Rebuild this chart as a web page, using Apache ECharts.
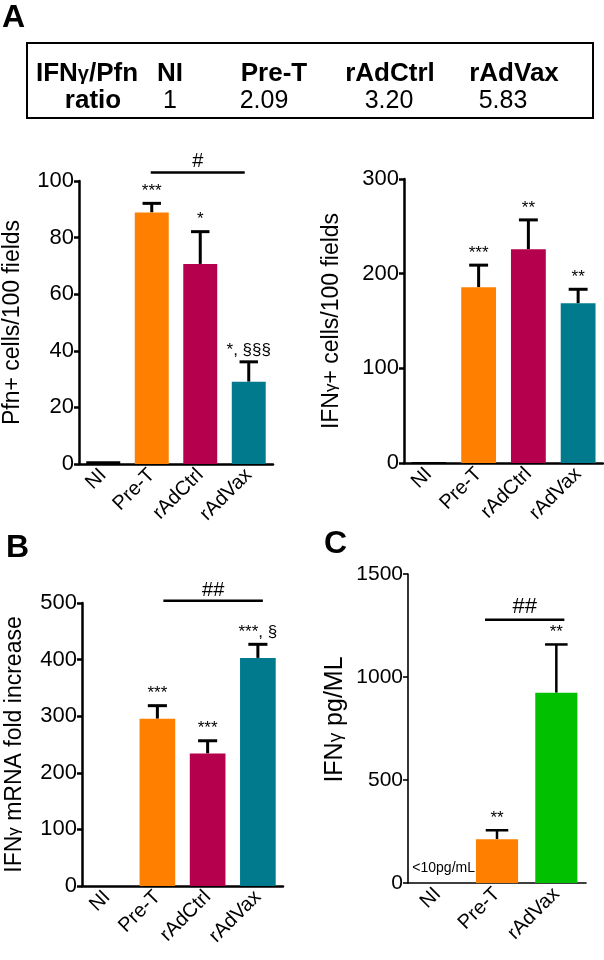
<!DOCTYPE html>
<html>
<head>
<meta charset="utf-8">
<script src="https://cdn.jsdelivr.net/npm/echarts@6/dist/echarts.min.js"></script>
<style>
  html, body { margin: 0; padding: 0; background: #fff; }
  #main { width: 604px; height: 960px; }
</style>
</head>
<body>
<div id="main"></div>
<script>
// categories
var catsA = ['NI', 'Pre-T', 'rAdCtrl', 'rAdVax'];
var catsC = ['NI', 'Pre-T', 'rAdVax'];
var barColorsA = ['#000000', '#FF8000', '#B5004E', '#007A8C'];
var barColorsC = ['#000000', '#FF8000', '#00C000'];

// ratio table
var ratioGroups = ['NI', 'Pre-T', 'rAdCtrl', 'rAdVax'];
var ratioValues = ['1', '2.09', '3.20', '5.83'];

// A left: Pfn+ cells/100 fields (mean, upper SEM)
var pfnMean = [1, 88.9, 70.7, 29.1];
var pfnUpper = [null, 92.1, 82.1, 36.1];
var pfnStars = ['', '***', '*', '*, §§§'];
var pfnSig = [1, 3, 103, '#'];

// A right: IFNg+ cells/100 fields
var ifnCellMean = [1, 185.6, 225.8, 168.7];
var ifnCellUpper = [null, 209, 256.8, 183.5];
var ifnCellStars = ['', '***', '**', '**'];

// B: IFNg mRNA fold increase
var mrnaMean = [0, 295.6, 234.3, 403];
var mrnaUpper = [null, 318.6, 256.6, 427];
var mrnaStars = ['', '***', '***', '***, §'];
var mrnaSig = [1, 3, 504, '##'];

// C: IFNg pg/ML
var pgMean = [0, 212.6, 924];
var pgUpper = [null, 256, 1158];
var pgStars = ['<10pg/mL', '**', '**'];
var pgSig = [1, 2, 1278, '##'];

var FONT = '"Liberation Sans", Arial, Helvetica, sans-serif';

var chart = echarts.init(document.getElementById('main'));

function errData(mean, upper) {
    return mean.map(function (m, i) {
        return [i, m, upper[i] == null ? m : upper[i]];
    });
}

function errRender(stars, capFrac, lw, starOffset) {
    return function (params, api) {
        var i = api.value(0), m = api.value(1), u = api.value(2);
        var p0 = api.coord([i, m]);
        var p1 = api.coord([i, u]);
        var half = api.size([1, 0])[0] * capFrac;
        var children = [];
        if (u !== m) {
            children.push({
                type: 'line',
                shape: { x1: p0[0], y1: p0[1], x2: p1[0], y2: p1[1] },
                style: { stroke: '#000', lineWidth: lw }
            });
            children.push({
                type: 'line',
                shape: { x1: p1[0] - half, y1: p1[1], x2: p1[0] + half, y2: p1[1] },
                style: { stroke: '#000', lineWidth: lw }
            });
        }
        var s = stars[params.dataIndex];
        if (s) {
            var small = s.charAt(0) === '<';
            children.push({
                type: 'text',
                x: p1[0] + (small ? 6 : 0),
                y: p1[1] - (small ? 8 : starOffset),
                style: {
                    text: s,
                    fontFamily: FONT,
                    fontSize: small ? 14 : 17,
                    fill: '#000',
                    align: 'center',
                    verticalAlign: small ? 'bottom' : 'middle'
                }
            });
        }
        return { type: 'group', children: children };
    };
}

function sigSeries(sig, xi, yi, ext, fontSize, gap) {
    return {
        type: 'custom',
        xAxisIndex: xi,
        yAxisIndex: yi,
        silent: true,
        clip: false,
        data: [[sig[0], sig[1], sig[2]]],
        encode: { x: [0, 1], y: 2 },
        renderItem: function (params, api) {
            var a = api.coord([api.value(0), api.value(2)]);
            var b = api.coord([api.value(1), api.value(2)]);
            return {
                type: 'group',
                children: [{
                    type: 'line',
                    shape: { x1: a[0] - ext[0], y1: a[1], x2: b[0] + ext[1], y2: b[1] },
                    style: { stroke: '#000', lineWidth: 2.5 }
                }, {
                    type: 'text',
                    x: (a[0] - ext[0] + b[0] + ext[1]) / 2,
                    y: a[1] - gap,
                    style: {
                        text: sig[3], fontFamily: FONT, fontSize: fontSize,
                        fill: '#000', align: 'center', verticalAlign: 'middle'
                    }
                }]
            };
        }
    };
}

function makeX(cats, gi, lw) {
    return {
        type: 'category',
        gridIndex: gi,
        data: cats,
        axisLine: { lineStyle: { color: '#000', width: lw } },
        axisTick: { show: false },
        axisLabel: {
            rotate: 45, color: '#000', fontFamily: FONT, fontSize: 20,
            margin: 8, interval: 0
        }
    };
}

function makeY(gi, max, interval, name, gap, lw, fs, nameFs, namePad) {
    return {
        type: 'value',
        gridIndex: gi,
        min: 0,
        max: max,
        interval: interval,
        name: name,
        nameLocation: 'middle',
        nameGap: gap,
        nameTextStyle: {
            color: '#000', fontFamily: FONT, fontSize: nameFs,
            padding: namePad,
            rich: { g: { fontFamily: FONT, fontSize: Math.round(nameFs * 0.75), color: '#000' } }
        },
        splitLine: { show: false },
        axisLine: { show: true, lineStyle: { color: '#000', width: lw } },
        axisTick: { show: true, length: 5, lineStyle: { color: '#000', width: lw } },
        axisLabel: {
            color: '#000', fontFamily: FONT, fontSize: fs, margin: 5,
            formatter: function (v) { return String(v); }
        }
    };
}

function barSeries(mean, colors, xi, yi, width) {
    return {
        type: 'bar',
        xAxisIndex: xi,
        yAxisIndex: yi,
        barWidth: width,
        data: mean.map(function (v, i) {
            return { value: v, itemStyle: { color: colors[i] } };
        })
    };
}

function errSeries(mean, upper, stars, xi, yi, capFrac, lw) {
    return {
        type: 'custom',
        xAxisIndex: xi,
        yAxisIndex: yi,
        silent: true,
        clip: false,
        data: errData(mean, upper),
        encode: { x: 0, y: [1, 2] },
        renderItem: errRender(stars, capFrac, lw, 12)
    };
}

var option = {
    animation: false,
    backgroundColor: '#fff',
    grid: [
        { left: 77, top: 181, width: 196, height: 283 },
        { left: 404, top: 179, width: 199, height: 284 },
        { left: 82, top: 603, width: 201, height: 283 },
        { left: 408, top: 574, width: 178, height: 309 }
    ],
    xAxis: [
        makeX(catsA, 0, 2.5),
        makeX(catsA, 1, 2.5),
        makeX(catsA, 2, 2.5),
        makeX(catsC, 3, 1.6)
    ],
    yAxis: [
        makeY(0, 100, 20, 'Pfn+ cells/100 fields', 55, 2.5, 22, 23, 0),
        makeY(1, 300, 100, 'IFN{g|γ}+ cells/100 fields', 61, 2.5, 22, 23, 0),
        makeY(2, 500, 100, 'IFN{g|γ} mRNA fold increase', 56, 2.5, 22, 23, 0),
        makeY(3, 1500, 500, 'IFN{g|γ} pg/ML', 60, 1.6, 21, 25, [0, 0, 0, 18])
    ],
    series: [
        barSeries(pfnMean, barColorsA, 0, 0, '70%'),
        errSeries(pfnMean, pfnUpper, pfnStars, 0, 0, 0.19, 3),
        sigSeries(pfnSig, 0, 0, [1, -4], 20, 11),

        barSeries(ifnCellMean, barColorsA, 1, 1, '70%'),
        errSeries(ifnCellMean, ifnCellUpper, ifnCellStars, 1, 1, 0.19, 3),

        barSeries(mrnaMean, barColorsA, 2, 2, '71%'),
        errSeries(mrnaMean, mrnaUpper, mrnaStars, 2, 2, 0.19, 3),
        sigSeries(mrnaSig, 2, 2, [-6, 5], 20, 10),

        barSeries(pgMean, barColorsC, 3, 3, '71%'),
        errSeries(pgMean, pgUpper, pgStars, 3, 3, 0.19, 2.5),
        sigSeries(pgSig, 3, 3, [12, 8], 22, 13)
    ],
    graphic: [
        { type: 'text', left: 2, top: 2, style: { text: 'A', fontFamily: FONT, fontWeight: 'bold', fontSize: 32, fill: '#000' } },
        { type: 'text', left: 6, top: 532, style: { text: 'B', fontFamily: FONT, fontWeight: 'bold', fontSize: 32, fill: '#000' } },
        { type: 'text', left: 324, top: 528, style: { text: 'C', fontFamily: FONT, fontWeight: 'bold', fontSize: 32, fill: '#000' } },
        { type: 'rect', shape: { x: 27, y: 43, width: 566, height: 75 }, style: { fill: 'none', stroke: '#000', lineWidth: 2 } }
    ]
};

// ratio table text
var headX = [170, 274, 390, 514];
var valX = [170, 264, 389, 503];
option.graphic.push({
    type: 'text', x: 87, y: 74,
    style: {
        text: 'IFN{g|γ}/Pfn', fontFamily: FONT, fontWeight: 'bold', fontSize: 26, fill: '#000',
        align: 'center', verticalAlign: 'middle',
        rich: { g: { fontFamily: FONT, fontWeight: 'bold', fontSize: 20, fill: '#000' } }
    }
});
option.graphic.push({
    type: 'text', x: 93, y: 101,
    style: { text: 'ratio', fontFamily: FONT, fontWeight: 'bold', fontSize: 26, fill: '#000', align: 'center', verticalAlign: 'middle' }
});
ratioGroups.forEach(function (g, i) {
    option.graphic.push({
        type: 'text', x: headX[i], y: 74,
        style: { text: g, fontFamily: FONT, fontWeight: 'bold', fontSize: 26, fill: '#000', align: 'center', verticalAlign: 'middle' }
    });
    option.graphic.push({
        type: 'text', x: valX[i], y: 101,
        style: { text: ratioValues[i], fontFamily: FONT, fontSize: 25, fill: '#000', align: 'center', verticalAlign: 'middle' }
    });
});

chart.setOption(option);
</script>
</body>
</html>
